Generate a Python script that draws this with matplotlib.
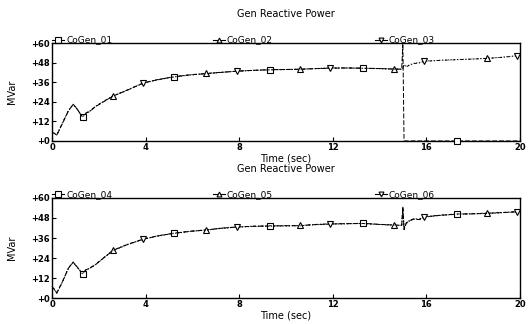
import numpy as np
import matplotlib
matplotlib.use("Agg")
import matplotlib.pyplot as plt

plt.rcParams['font.family'] = ['DejaVu Sans']

# common time base (sec)
t = [0, 0.2, 0.45, 0.7, 0.9, 1.05, 1.3, 1.45, 1.6, 1.85, 2.2, 2.6, 3.2, 3.9, 4.5,
     5.2, 5.9, 6.6, 7.2, 7.9, 8.6, 9.3, 9.9, 10.6, 11.2, 11.9, 12.6, 13.3, 14.0,
     14.6, 14.95, 15.0, 15.05, 15.15, 15.3, 15.5, 15.7, 15.9, 16.6, 17.3, 18.0,
     18.6, 19.2, 19.9, 20.0]

# upper panel
cogen_01 = [5.5, 3.5, 11, 18.5, 22.5, 20, 14.5, 17, 18, 21, 24, 27.5, 31, 35.5, 37.5,
            39.4, 40.5, 41.3, 42, 42.8, 43.3, 43.7, 43.8, 44, 44.3, 44.6, 44.7, 44.6, 44.4,
            44.1, 44, 60, 0, 0, 0, 0, 0, 0, 0, 0, 0,
            0, 0, 0, 0]
cogen_02 = [5.8, 3.8, 11.3, 18.8, 22.3, 19.8, 14.8, 17.2, 18.2, 21.2, 24.3, 27.6, 31.2, 35.6, 37.6,
            39.3, 40.6, 41.4, 42.1, 42.7, 43.3, 43.6, 43.8, 43.9, 44.3, 44.7, 44.8, 44.6, 44.4,
            44.1, 44.0, 44.5, 47, 45.5, 46.5, 47.5, 47.8, 48.8, 49.4, 49.8, 50.2,
            50.6, 51.2, 52.2, 52.4]
cogen_03 = [5.6, 3.6, 11.1, 18.6, 22.4, 20.1, 14.6, 17.1, 18.1, 21.1, 24.1, 27.4, 31.1, 35.4, 37.4,
            39.2, 40.4, 41.2, 42, 42.8, 43.2, 43.6, 43.7, 44, 44.4, 44.8, 44.8, 44.5, 44.3,
            44.0, 43.9, 44.3, 46.5, 45.8, 46.8, 47.8, 48, 49, 49.5, 49.9, 50.3,
            50.7, 51.3, 52.3, 52.6]

# lower panel
cogen_04 = [7, 3, 10, 18, 21.5, 19, 14.5, 17, 17.8, 20, 24, 28.5, 32, 35.3, 37.2,
            38.8, 40, 40.8, 41.8, 42.6, 43, 43.2, 43.3, 43.4, 44, 44.4, 44.6, 44.8, 44.2,
            43.8, 43.6, 55, 41, 45, 46.5, 47.5, 47, 48.6, 49.6, 50.3, 50.5,
            50.8, 51.2, 51.7, 51.8]
cogen_05 = [7.2, 3.2, 10.2, 18.2, 21.4, 18.8, 14.7, 17.1, 17.9, 20.2, 24.2, 28.7, 32.1, 35.4, 37.3,
            38.9, 40.1, 40.9, 41.9, 42.6, 43.1, 43.3, 43.4, 43.5, 44.1, 44.5, 44.6, 44.7, 44.1,
            43.7, 43.5, 53, 42, 45.2, 46.7, 47.7, 47.2, 48.8, 49.7, 50.4, 50.6,
            50.9, 51.3, 51.8, 51.9]
cogen_06 = [6.9, 2.9, 9.9, 17.9, 21.6, 19.1, 14.4, 16.9, 17.7, 19.9, 23.9, 28.4, 31.9, 35.2, 37.1,
            38.7, 39.9, 40.7, 41.7, 42.5, 42.9, 43.1, 43.2, 43.3, 43.9, 44.3, 44.5, 44.7, 44.1,
            43.8, 43.6, 54, 41.5, 44.8, 46.3, 47.3, 46.9, 48.5, 49.5, 50.2, 50.4,
            50.7, 51.1, 51.6, 51.7]

# indices of t where each curve carries its symbol
mark_sq = [6, 15, 21, 27, 39]
mark_up = [11, 17, 23, 29, 41]
mark_dn = [13, 19, 25, 37, 43]

x_ticks = [0, 4, 8, 12, 16, 20]
y_ticks = [0, 12, 24, 36, 48, 60]

fig = plt.figure(figsize=(5.32, 3.24), dpi=100)
ax1 = fig.add_axes([0.098, 0.565, 0.879, 0.302])
ax2 = fig.add_axes([0.098, 0.080, 0.879, 0.309])

styles = [('s', mark_sq, (0, (5, 2))), ('^', mark_up, (2, (3, 2, 1, 2))), ('v', mark_dn, (1, (1, 2)))]
legx = [0.0, 0.343, 0.69]


def draw_panel(ax, series, names):
    for (m, idx, ls), y, name, lx in zip(styles, series, names, legx):
        ax.plot(t, y, color='black', lw=0.7, ls=ls, marker=m, markevery=idx,
                ms=4.5 if m == 's' else 3.8, mfc='white', mec='black', mew=0.8,
                clip_on=False, zorder=3)
        # legend entry sitting on top of the frame
        ax.plot([lx, lx + 0.026], [1.035, 1.035], transform=ax.transAxes,
                color='black', lw=0.8, clip_on=False)
        ax.plot([lx + 0.013], [1.035], transform=ax.transAxes, marker=m,
                ms=4 if m == 's' else 3.5, mfc='white', mec='black', mew=0.8,
                clip_on=False)
        ax.text(lx + 0.03, 1.035, name, transform=ax.transAxes, fontsize=6.5,
                va='center', ha='left')
    ax.set_xlim(0, 20)
    ax.set_ylim(0, 60)
    ax.set_xticks(x_ticks)
    ax.set_xticklabels([str(v) for v in x_ticks], fontsize=6, fontweight='bold')
    ax.set_yticks(y_ticks)
    ax.set_yticklabels(['+' + str(v) for v in y_ticks], fontsize=6, fontweight='bold')
    ax.tick_params(direction='in', length=3, width=0.8, pad=1.5)
    for s in ax.spines.values():
        s.set_linewidth(1.0)
    ax.set_ylabel('MVar', fontsize=7, labelpad=10)
    ax.set_xlabel('Time (sec)', fontsize=7, labelpad=1)
    ax.set_title('Gen Reactive Power', fontsize=7, pad=19)


draw_panel(ax1, [cogen_01, cogen_02, cogen_03], ['CoGen_01', 'CoGen_02', 'CoGen_03'])
draw_panel(ax2, [cogen_04, cogen_05, cogen_06], ['CoGen_04', 'CoGen_05', 'CoGen_06'])

fig.savefig('out.png', dpi=100)
